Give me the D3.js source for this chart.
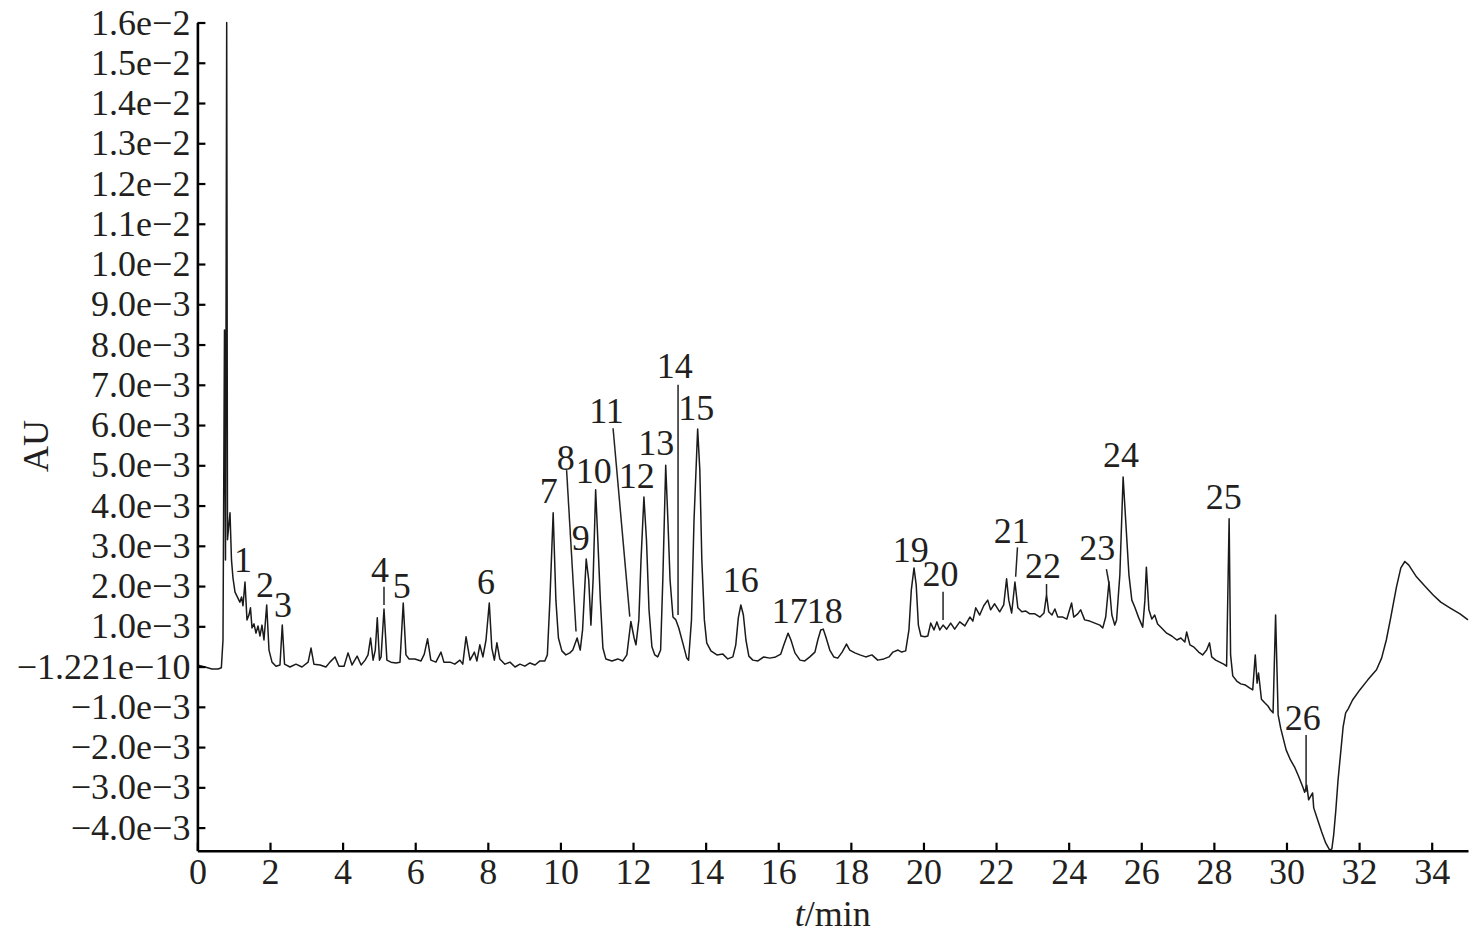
<!DOCTYPE html>
<html>
<head>
<meta charset="utf-8">
<script src="https://cdn.jsdelivr.net/npm/d3@7"></script>
<style>
  html, body { margin: 0; padding: 0; background: #fff; }
  svg { display: block; font-family: "Liberation Serif", "Times New Roman", serif; }
</style>
</head>
<body>
<svg id="chart" width="1476" height="935"></svg>
<script>
// ---------------- DATA ----------------
// chromatogram trace: [retention time (min), absorbance (×1e-3 AU)]
const chromatogram = [
  [0.00,0.04],[0.21,-0.01],[0.40,-0.06],[0.57,-0.06],[0.66,-0.03],[0.705,0.66],[0.746,8.36],[0.774,2.65],
  [0.807,16.0],[0.829,3.15],[0.898,3.82],[0.939,2.65],[0.98,2.2],[1.036,1.85],[1.09,1.75],[1.17,1.6],
  [1.216,1.73],[1.256,1.51],[1.311,2.10],[1.366,1.16],[1.42,1.28],[1.462,1.46],[1.504,0.96],[1.559,1.06],
  [1.614,0.83],[1.669,1.01],[1.724,0.76],[1.779,1.03],[1.834,0.66],[1.909,1.53],[1.972,0.41],[2.055,0.11],
  [2.165,0.01],[2.275,0.04],[2.338,1.03],[2.40,0.06],[2.55,-0.01],[2.715,0.06],[2.88,-0.01],[3.05,0.11],
  [3.13,0.46],[3.21,0.06],[3.38,0.04],[3.54,-0.01],[3.65,0.11],[3.79,0.24],[3.90,0.01],[4.04,0.01],
  [4.15,0.34],[4.26,0.04],[4.40,0.26],[4.51,0.04],[4.62,0.16],[4.70,0.29],[4.77,0.71],[4.84,0.16],
  [4.90,0.41],[4.955,1.21],[5.015,0.16],[5.06,0.24],[5.14,1.43],[5.22,0.16],[5.33,0.11],[5.47,0.09],
  [5.58,0.11],[5.67,1.58],[5.745,0.29],[5.83,0.19],[5.99,0.19],[6.16,0.14],[6.25,0.31],[6.34,0.69],
  [6.43,0.16],[6.57,0.11],[6.71,0.36],[6.79,0.11],[6.96,0.11],[7.09,0.06],[7.23,0.16],[7.31,0.06],
  [7.40,0.74],[7.51,0.16],[7.63,0.36],[7.70,0.14],[7.78,0.54],[7.865,0.24],[7.95,0.66],[8.04,1.58],
  [8.11,0.46],[8.18,0.16],[8.25,0.59],[8.33,0.19],[8.47,0.06],[8.61,0.11],[8.75,-0.01],[8.885,0.06],
  [9.02,0.01],[9.16,0.09],[9.30,0.04],[9.435,0.14],[9.57,0.14],[9.64,0.29],[9.71,1.65],[9.80,3.82],
  [9.875,1.65],[9.945,0.71],[10.04,0.39],[10.15,0.29],[10.26,0.34],[10.34,0.41],[10.46,0.71],[10.545,0.41],
  [10.61,0.91],[10.71,2.67],[10.78,2.15],[10.84,1.03],[10.90,2.15],[10.97,4.39],[11.03,3.15],[11.10,1.65],
  [11.17,0.46],[11.25,0.19],[11.42,0.14],[11.58,0.19],[11.72,0.14],[11.83,0.29],[11.94,1.12],[12.03,0.71],
  [12.08,0.54],[12.16,1.16],[12.22,2.65],[12.30,4.21],[12.37,3.15],[12.44,1.41],[12.52,0.49],[12.60,0.29],
  [12.68,0.24],[12.76,0.41],[12.82,2.15],[12.90,5.00],[12.96,3.64],[13.02,2.15],[13.10,1.23],[13.18,1.16],
  [13.26,0.96],[13.37,0.59],[13.48,0.21],[13.53,0.16],[13.61,1.16],[13.68,3.64],[13.78,5.90],[13.84,4.88],
  [13.895,2.65],[13.965,1.16],[14.03,0.59],[14.145,0.39],[14.31,0.29],[14.475,0.31],[14.61,0.19],[14.75,0.24],
  [14.83,0.54],[14.90,1.21],[14.97,1.53],[15.04,1.28],[15.11,0.66],[15.19,0.26],[15.30,0.16],[15.44,0.14],
  [15.60,0.24],[15.77,0.21],[15.93,0.24],[16.07,0.31],[16.155,0.54],[16.27,0.83],[16.35,0.66],[16.46,0.34],
  [16.60,0.16],[16.73,0.14],[16.87,0.24],[17.01,0.36],[17.09,0.66],[17.17,0.91],[17.24,0.93],[17.31,0.74],
  [17.42,0.41],[17.53,0.24],[17.64,0.21],[17.76,0.36],[17.88,0.56],[17.97,0.41],[18.11,0.34],[18.25,0.29],
  [18.41,0.24],[18.58,0.29],[18.74,0.16],[18.91,0.19],[19.05,0.24],[19.16,0.36],[19.30,0.41],[19.40,0.36],
  [19.51,0.39],[19.60,0.91],[19.665,1.90],[19.74,2.45],[19.80,2.03],[19.86,1.03],[19.93,0.76],[20.04,0.74],
  [20.12,0.76],[20.20,1.08],[20.29,0.91],[20.37,1.11],[20.45,0.91],[20.54,1.03],[20.64,0.93],[20.75,1.08],
  [20.86,0.93],[21.00,1.11],[21.14,1.01],[21.28,1.23],[21.36,1.13],[21.44,1.46],[21.55,1.28],[21.66,1.51],
  [21.77,1.65],[21.85,1.41],[21.96,1.56],[22.10,1.36],[22.21,1.53],[22.29,2.18],[22.35,1.65],[22.43,1.33],
  [22.52,2.10],[22.60,1.46],[22.71,1.36],[22.82,1.38],[22.93,1.31],[23.07,1.31],[23.21,1.23],[23.32,1.33],
  [23.39,1.78],[23.45,1.36],[23.54,1.28],[23.62,1.43],[23.70,1.23],[23.84,1.23],[23.95,1.18],[24.08,1.58],
  [24.14,1.23],[24.25,1.31],[24.33,1.41],[24.44,1.16],[24.58,1.13],[24.72,1.08],[24.86,1.03],[24.94,0.96],
  [25.02,1.23],[25.11,2.10],[25.19,1.28],[25.27,1.03],[25.32,1.16],[25.41,2.28],[25.50,4.71],[25.57,3.64],
  [25.66,2.28],[25.74,1.65],[25.82,1.48],[25.93,1.21],[26.04,0.98],[26.10,1.65],[26.14,2.47],[26.21,1.41],
  [26.29,1.18],[26.37,1.28],[26.45,1.06],[26.56,0.96],[26.70,0.83],[26.84,0.76],[26.98,0.66],[27.09,0.71],
  [27.20,0.61],[27.25,0.86],[27.34,0.54],[27.44,0.49],[27.58,0.36],[27.69,0.29],[27.80,0.41],[27.88,0.59],
  [27.94,0.24],[28.05,0.16],[28.16,0.11],[28.27,0.06],[28.35,0.01],[28.42,3.67],[28.46,0.29],[28.52,-0.23],
  [28.63,-0.36],[28.74,-0.43],[28.87,-0.46],[28.98,-0.53],[29.07,-0.58],[29.14,0.29],[29.19,-0.41],[29.23,-0.16],
  [29.31,-0.81],[29.40,-0.90],[29.49,-0.98],[29.56,-1.08],[29.63,-1.15],[29.70,1.28],[29.77,-1.20],[29.84,-1.53],
  [29.99,-2.07],[30.11,-2.32],[30.22,-2.49],[30.33,-2.72],[30.45,-2.99],[30.50,-3.12],[30.56,-2.95],[30.61,-3.31],
  [30.72,-3.14],[30.75,-3.51],[30.86,-3.81],[30.97,-4.11],[31.08,-4.38],[31.19,-4.56],[31.25,-4.53],[31.30,-4.18],
  [31.36,-3.56],[31.42,-2.82],[31.50,-2.07],[31.56,-1.50],[31.63,-1.15],[31.70,-1.05],[31.82,-0.83],[32.02,-0.58],
  [32.24,-0.33],[32.48,-0.08],[32.62,0.21],[32.75,0.66],[32.87,1.21],[33.03,1.98],[33.15,2.45],[33.26,2.61],
  [33.37,2.52],[33.58,2.23],[33.81,2.00],[34.04,1.78],[34.25,1.60],[34.50,1.46],[34.78,1.31],[35.00,1.16]
];

// peak labels: [text, label time (min), label baseline (×1e-3 AU)]
const peakLabels = [
  ["1",1.256,2.35],["2",1.862,1.73],["3",2.357,1.23],["4",5.03,2.10],["5",5.63,1.70],["6",7.95,1.80],
  ["7",9.68,4.06],["8",10.15,4.88],["9",10.56,2.90],["10",10.92,4.56],["11",11.27,6.05],["12",12.10,4.44],
  ["13",12.64,5.26],["14",13.15,7.16],["15",13.74,6.13],["16",14.97,1.86],["17",16.32,1.08],["18",17.28,1.08],
  ["19",19.65,2.61],["20",20.47,1.99],["21",22.43,3.06],["22",23.29,2.19],["23",24.79,2.65],["24",25.44,4.97],
  ["25",28.27,3.91],["26",30.45,-1.58]
];

// leader lines: [t1, v1, t2, v2] (×1e-3 AU)
const leaderLines = [
  [5.14,1.98,5.14,1.53],
  [10.17,4.88,10.43,0.87],
  [11.45,5.92,11.91,1.24],
  [13.24,7.00,13.24,1.28],
  [20.54,1.86,20.54,1.16],
  [22.59,2.96,22.54,2.23],
  [23.39,2.05,23.39,1.78],
  [25.04,2.42,25.11,2.07],
  [30.54,-1.70,30.54,-3.11]
];

const xTickValues = [0,2,4,6,8,10,12,14,16,18,20,22,24,26,28,30,32,34];
const yTickValues = [-4e-3,-3e-3,-2e-3,-1e-3,0,1e-3,2e-3,3e-3,4e-3,5e-3,6e-3,7e-3,8e-3,9e-3,1e-2,1.1e-2,1.2e-2,1.3e-2,1.4e-2,1.5e-2,1.6e-2];
const yTickLabels = ["−4.0e−3","−3.0e−3","−2.0e−3","−1.0e−3","−1.221e−10","1.0e−3","2.0e−3","3.0e−3","4.0e−3",
  "5.0e−3","6.0e−3","7.0e−3","8.0e−3","9.0e−3","1.0e−2","1.1e−2","1.2e−2","1.3e−2","1.4e−2","1.5e−2","1.6e−2"];

const xDomain = [0, 35];
const yDomain = [-4.574e-3, 1.6e-2];
const SCALE = 1e-3;

// ---------------- LAYOUT ----------------
(function draw() {
  const svg = d3.select("#chart");
  const mLeft = 197.4, mRight = 1468, mTop = 22.5, mBottom = 850.7;
  const FS = 36;

  const x = d3.scaleLinear().domain(xDomain).range([mLeft, mRight]);
  const y = d3.scaleLinear().domain(yDomain).range([mBottom, mTop]);

  // trace
  const line = d3.line().x(d => x(d[0])).y(d => y(d[1] * SCALE));
  svg.append("path")
    .datum(chromatogram)
    .attr("d", line)
    .attr("fill", "none")
    .attr("stroke", "#1a1a1a")
    .attr("stroke-width", 1.5)
    .attr("stroke-linejoin", "round");

  // leader lines
  svg.append("g").selectAll("line").data(leaderLines).join("line")
    .attr("x1", d => x(d[0])).attr("y1", d => y(d[1] * SCALE))
    .attr("x2", d => x(d[2])).attr("y2", d => y(d[3] * SCALE))
    .attr("stroke", "#222").attr("stroke-width", 1.5);

  // peak labels
  svg.append("g").selectAll("text").data(peakLabels).join("text")
    .attr("x", d => x(d[1])).attr("y", d => y(d[2] * SCALE))
    .attr("text-anchor", "middle")
    .attr("font-size", FS)
    .attr("fill", "#231f20")
    .text(d => d[0]);

  // axes
  const yAxis = d3.axisLeft(y).tickValues(yTickValues)
    .tickFormat((d, i) => yTickLabels[i])
    .tickSizeInner(-8).tickSizeOuter(0).tickPadding(7);
  const gy = svg.append("g").attr("transform", `translate(${mLeft},0)`).call(yAxis);

  const xAxis = d3.axisBottom(x).tickValues(xTickValues)
    .tickFormat(d3.format("d"))
    .tickSizeInner(-8).tickSizeOuter(0).tickPadding(8);
  const gx = svg.append("g").attr("transform", `translate(0,${mBottom})`).call(xAxis);

  [gx, gy].forEach(g => {
    g.select(".domain").attr("stroke", "#000").attr("stroke-width", 2.6);
    g.selectAll(".tick line").attr("stroke", "#000").attr("stroke-width", 2.2);
    g.selectAll(".tick text").attr("fill", "#231f20")
      .attr("font-size", FS)
      .attr("font-family", "'Liberation Serif', 'Times New Roman', serif");
  });

  // axis titles
  svg.append("text")
    .attr("transform", `translate(48,446) rotate(-90)`)
    .attr("text-anchor", "middle")
    .attr("font-size", FS)
    .attr("fill", "#231f20")
    .text("AU");

  const xt = svg.append("text")
    .attr("x", (mLeft + mRight) / 2)
    .attr("y", 926)
    .attr("text-anchor", "middle")
    .attr("font-size", FS)
    .attr("fill", "#231f20");
  xt.append("tspan").attr("font-style", "italic").text("t");
  xt.append("tspan").text("/min");
})();
</script>
</body>
</html>
